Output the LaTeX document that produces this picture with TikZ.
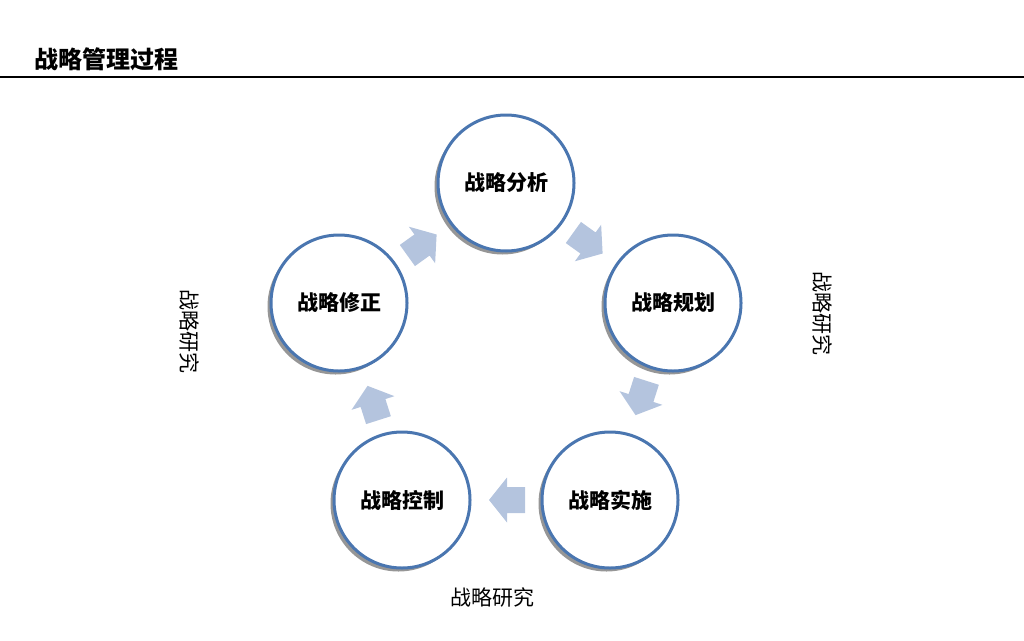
\documentclass[tikz,border=0pt]{standalone}
\usepackage{fontspec}
\setmainfont{Noto Sans CJK SC}
\usetikzlibrary{shadows}
\definecolor{ringblue}{RGB}{74,118,176}
\definecolor{arrowblue}{RGB}{180,196,222}
\definecolor{shadowgray}{RGB}{150,150,150}
\tikzset{
  stage/.style={circle, draw=ringblue, line width=3pt, fill=white, minimum size=136pt, inner sep=0pt,
    font=\fontsize{21}{24}\selectfont\bfseries,
    drop shadow={shadow xshift=-3.5pt, shadow yshift=-3.5pt, fill=shadowgray, opacity=1}},
  sidelabel/.style={font=\fontsize{21}{24}\selectfont, inner sep=0pt},
  barrow/.pic={\fill[arrowblue] (18,0) -- (0,22.5) -- (0,13) -- (-18,13) -- (-18,-13) -- (0,-13) -- (0,-22.5) -- cycle;}
}
\begin{document}
\begin{tikzpicture}[x=1pt,y=-1pt]
\useasboundingbox (0,0) rectangle (1024,640);
\node[font=\fontsize{24}{27}\selectfont\bfseries, anchor=west, inner sep=0pt] (title) at (34,59) {战略管理过程};
\coordinate (ruleL) at (0,77);
\coordinate (ruleR) at (1024,77);
\draw[line width=1.4pt] (ruleL) -- (ruleR);

\pic[rotate=-35.7] at (588,243) {barrow};
\pic[rotate=-107.7] at (641,398) {barrow};
\pic[rotate=180] at (507,500) {barrow};
\pic[rotate=107.7] at (373,403) {barrow};
\pic[rotate=35.7] at (422,245) {barrow};

\node[stage] (analysis) at (506,183) {战略分析};
\node[stage] (planning) at (673,303) {战略规划};
\node[stage] (implement) at (610,500) {战略实施};
\node[stage] (control) at (402,500) {战略控制};
\node[stage] (revise) at (339,303) {战略修正};

\node[sidelabel, rotate=-90] (leftlabel) at (190,331) {战略研究};
\node[sidelabel, rotate=-90] (rightlabel) at (822,313) {战略研究};
\node[sidelabel] (bottomlabel) at (492,597) {战略研究};
\end{tikzpicture}
\end{document}
